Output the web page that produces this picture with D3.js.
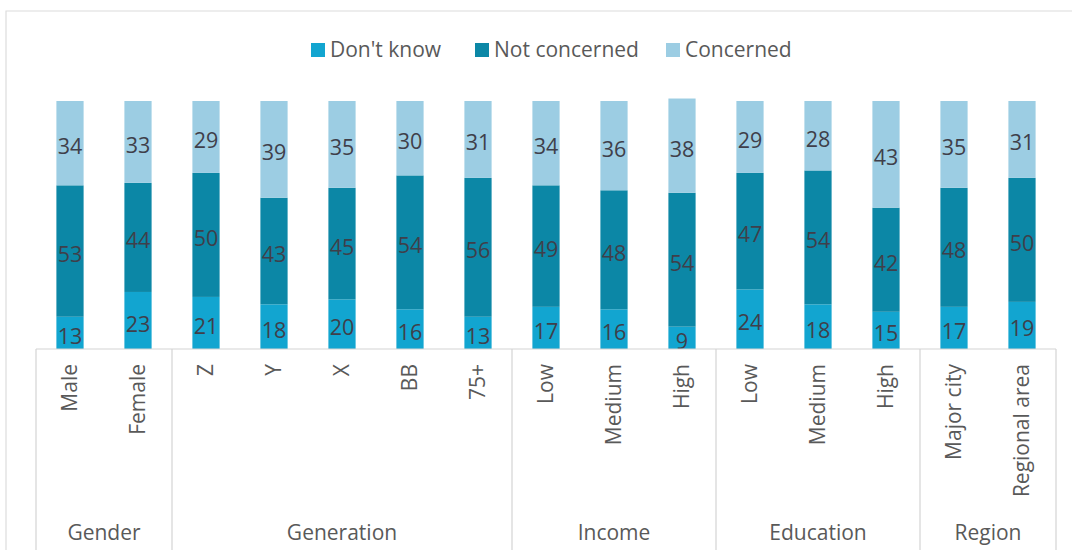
<!DOCTYPE html>
<html>
<head>
<meta charset="utf-8">
<script src="https://cdn.jsdelivr.net/npm/d3@7"></script>
<style>
  html, body { margin: 0; padding: 0; background: #ffffff; }
  svg { display: block; font-family: "Open Sans", "Noto Sans", sans-serif; }
</style>
</head>
<body>
<svg id="chart" width="1072" height="550"></svg>
<script>
// Survey responses by demographic segment (percent of respondents)
const categories = ["Male", "Female", "Z", "Y", "X", "BB", "75+", "Low", "Medium", "High", "Low", "Medium", "High", "Major city", "Regional area"];
const groups = ["Gender", "Generation", "Income", "Education", "Region"];
const groupSizes = [2, 5, 3, 3, 2];
const seriesNames = ["Don't know", "Not concerned", "Concerned"];
const dontKnow = [13, 23, 21, 18, 20, 16, 13, 17, 16, 9, 24, 18, 15, 17, 19];
const notConcerned = [53, 44, 50, 43, 45, 54, 56, 49, 48, 54, 47, 54, 42, 48, 50];
const concerned = [34, 33, 29, 39, 35, 30, 31, 34, 36, 38, 29, 28, 43, 35, 31];
const seriesColors = ["#12a5d0", "#0c87a6", "#9ccde3"];

const svg = d3.select("#chart");
const W = 1072, H = 550;
const plotLeft = 36, plotRight = 1056, plotTop = 101, plotBottom = 349;

// Rows for the stack layout
const rows = categories.map((c, i) => ({
  idx: i,
  "Don't know": dontKnow[i],
  "Not concerned": notConcerned[i],
  "Concerned": concerned[i]
}));
const stacked = d3.stack().keys(seriesNames)(rows);

const x = d3.scaleBand()
  .domain(d3.range(categories.length))
  .range([plotLeft, plotRight])
  .paddingInner(0.6)
  .paddingOuter(0.3);
const y = d3.scaleLinear().domain([0, 100]).range([plotBottom, plotTop]);
const color = d3.scaleOrdinal().domain(seriesNames).range(seriesColors);

// Outer frame
svg.append("path")
  .attr("d", `M6,${H} L6,11 L${W},11`)
  .attr("fill", "none")
  .attr("stroke", "#dcdcdc")
  .attr("stroke-width", 1.2);

// Stacked bars
const layers = svg.append("g").selectAll("g")
  .data(stacked)
  .join("g")
  .attr("fill", d => color(d.key));

layers.selectAll("rect")
  .data(d => d)
  .join("rect")
  .attr("x", d => x(d.data.idx))
  .attr("width", x.bandwidth())
  .attr("y", d => y(d[1]))
  .attr("height", d => y(d[0]) - y(d[1]));

// Value labels in each segment
const labels = svg.append("g")
  .attr("font-size", 21.5)
  .attr("fill", "#3f3f4a")
  .attr("text-anchor", "middle");
stacked.forEach(layer => {
  labels.selectAll(null)
    .data(layer)
    .join("text")
    .attr("x", d => x(d.data.idx) + x.bandwidth() / 2)
    .attr("y", d => (y(d[0]) + y(d[1])) / 2 + 3.5)
    .attr("dy", "0.35em")
    .text(d => d.data[layer.key]);
});

// Category axis line
const axisCol = "#d4d4d4";
svg.append("line")
  .attr("x1", plotLeft).attr("x2", plotRight)
  .attr("y1", plotBottom).attr("y2", plotBottom)
  .attr("stroke", axisCol).attr("stroke-width", 1.2);

// Group separators and group titles
let start = 0;
const bounds = [0];
groupSizes.forEach(n => { start += n; bounds.push(start); });
const step = x.step();
const edge = i => plotLeft + i * step;

svg.append("g").selectAll("line")
  .data(bounds)
  .join("line")
  .attr("x1", d => edge(d)).attr("x2", d => edge(d))
  .attr("y1", plotBottom).attr("y2", H)
  .attr("stroke", axisCol).attr("stroke-width", 1.2);

svg.append("g").selectAll("text")
  .data(groups)
  .join("text")
  .attr("x", (g, i) => (edge(bounds[i]) + edge(bounds[i + 1])) / 2)
  .attr("y", 540)
  .attr("text-anchor", "middle")
  .attr("font-size", 21)
  .attr("fill", "#595959")
  .text(g => g);

// Rotated category labels
svg.append("g").selectAll("text")
  .data(categories)
  .join("text")
  .attr("transform", (c, i) => `translate(${x(i) + x.bandwidth() / 2},364) rotate(-90)`)
  .attr("text-anchor", "end")
  .attr("dy", "0.35em")
  .attr("font-size", 21)
  .attr("fill", "#595959")
  .text(c => c);

// Legend
const legendX = [311, 475, 666];
const legend = svg.append("g").selectAll("g")
  .data(seriesNames)
  .join("g")
  .attr("transform", (s, i) => `translate(${legendX[i]},0)`);
legend.append("rect")
  .attr("x", 0).attr("y", 43)
  .attr("width", 14).attr("height", 14)
  .attr("fill", s => color(s));
legend.append("text")
  .attr("x", 19).attr("y", 57)
  .attr("font-size", 21)
  .attr("fill", "#595959")
  .text(s => s);
</script>
</body>
</html>
